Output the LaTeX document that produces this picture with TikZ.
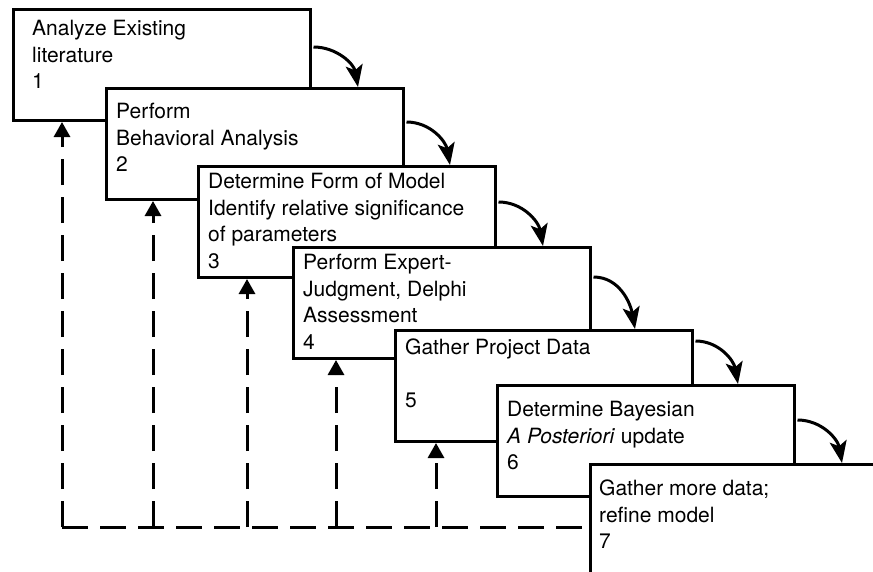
\documentclass[tikz,border=0pt]{standalone}
\usepackage{fontspec}
\setmainfont{TeX Gyre Heros}
\usetikzlibrary{calc, arrows.meta}
\tikzset{
stage/.style={draw, fill=white, line width=3pt, minimum width=297pt, minimum height=111pt, inner sep=0pt, anchor=north west},
stagetext/.style={inner sep=0pt, anchor=north west, align=left, font=\fontsize{21}{26.5}\selectfont},
flow/.style={line width=3pt, -{Stealth[length=22pt, width=17pt, inset=5pt]}},
dashline/.style={line width=3pt, dash pattern=on 26pt off 12pt},
back/.style={dashline, -{Triangle[length=15pt, width=16pt]}},
}

\begin{document}
\begin{tikzpicture}[x=1pt, y=-1pt]
\useasboundingbox (0,0) rectangle (873,571);
\clip (0,0) rectangle (873,571);

\node[stage] (b1) at (12,8) {};
\node[stagetext] (t1) at ($(b1.north west)+(20,12)$) {Analyze Existing\\literature\\1};
\node[stage] (b2) at (105,87) {};
\node[stagetext] (t2) at ($(b2.north west)+(11,16)$) {Perform\\Behavioral Analysis\\2};
\node[stage] (b3) at (197,165) {};
\node[stagetext] (t3) at ($(b3.north west)+(11,8)$) {Determine Form of Model\\Identify relative significance\\of parameters\\3};
\node[stage] (b4) at (292,246) {};
\node[stagetext] (t4) at ($(b4.north west)+(11,8)$) {Perform Expert-\\Judgment, Delphi\\Assessment\\4};
\node[stage] (b5) at (394,329) {};
\node[stagetext] (t5) at ($(b5.north west)+(11,10)$) {Gather Project Data\\[26.5pt]5};
\node[stage] (b6) at (496,384) {};
\node[stagetext] (t6) at ($(b6.north west)+(11,17)$) {Determine Bayesian\\\textit{A Posteriori} update\\6};
\node[stage] (b7) at (589,463) {};
\node[stagetext] (t7) at ($(b7.north west)+(10,17)$) {Gather more data;\\refine model\\7};

% forward steps
\draw[flow] ($(b1.north east)+(1.5,39)$) to[out=0, in=100] ($(b2.north west)+(253,0)$);
\draw[flow] ($(b2.north east)+(1.5,35)$) to[out=0, in=100] ($(b3.north west)+(253,0)$);
\draw[flow] ($(b3.north east)+(1.5,37)$) to[out=0, in=100] ($(b4.north west)+(251,0)$);
\draw[flow] ($(b4.north east)+(1.5,31)$) to[out=0, in=100] ($(b5.north west)+(241,0)$);
\draw[flow] ($(b5.north east)+(1.5,12)$) to[out=0, in=100] ($(b6.north west)+(242,0)$);
\draw[flow] ($(b6.north east)+(1.5,36)$) to[out=0, in=100] ($(b7.north west)+(253,0)$);

% feedback
\coordinate (f1) at (62,527);
\coordinate (f2) at (153,527);
\coordinate (f3) at (247,527);
\coordinate (f4) at (336,527);
\coordinate (f5) at (436,527);
\draw[dashline] (f1) -- (f1 -| b7.west);
\draw[back] (f1) -- (f1 |- b1.south);
\draw[back] (f2) -- (f2 |- b2.south);
\draw[back] (f3) -- (f3 |- b3.south);
\draw[back] (f4) -- (f4 |- b4.south);
\draw[back] (f5) -- (f5 |- b5.south);
\end{tikzpicture}
\end{document}
